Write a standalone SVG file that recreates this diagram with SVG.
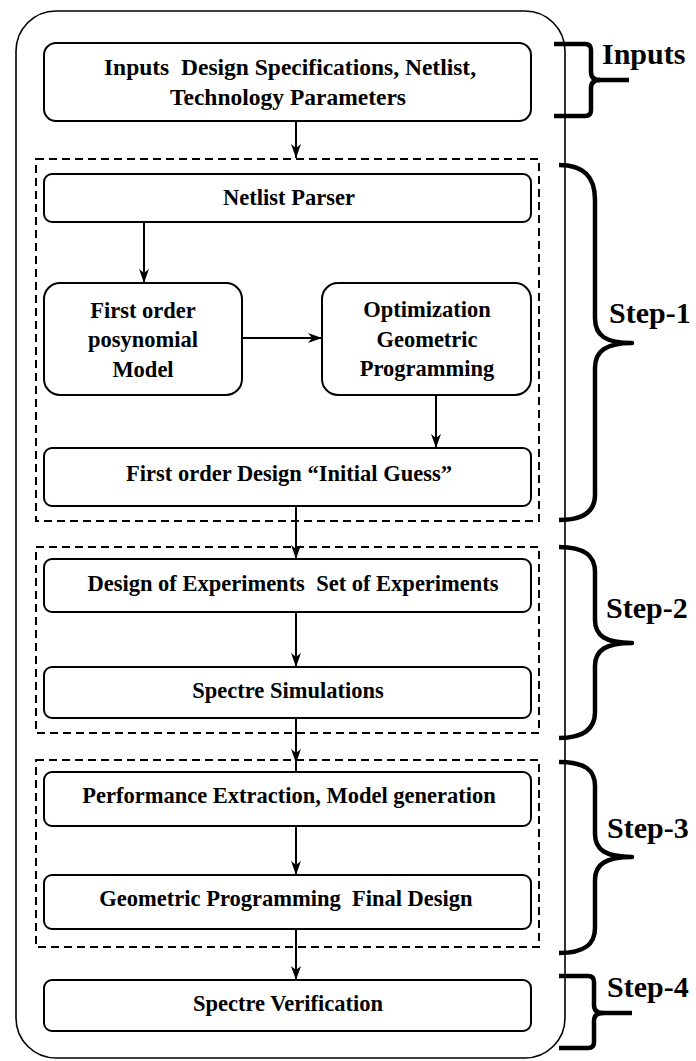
<svg xmlns="http://www.w3.org/2000/svg" width="696" height="1061" viewBox="0 0 696 1061">
<style>
.bg{fill:#fff}
.outer{fill:none;stroke:#000;stroke-width:1.6}
.box{fill:#fff;stroke:#000;stroke-width:2}
.dash{fill:none;stroke:#000;stroke-width:2;stroke-dasharray:8 5}
.t{font-family:"Liberation Serif","Times New Roman",serif;font-weight:bold;font-size:22.5px;fill:#000;text-anchor:middle;white-space:pre}
.big{font-size:23.5px}
.lbl{font-family:"Liberation Serif","Times New Roman",serif;font-weight:bold;font-size:30px;fill:#000}
.brace{fill:none;stroke:#000;stroke-width:4.5;stroke-linecap:butt;stroke-linejoin:round}
.conn{fill:none;stroke:#000;stroke-width:2}
</style>
<defs>
<marker id="arr" viewBox="0 0 14 10" refX="14" refY="5" markerWidth="14" markerHeight="10" markerUnits="userSpaceOnUse" orient="auto">
<path d="M0,0 L14,5 L0,10 L4,5 z" fill="#000"/>
</marker>
</defs>
<rect class="bg" x="0" y="0" width="696" height="1061"/>
<rect class="outer" x="16" y="11" width="549" height="1047" rx="40" ry="40"/>

<g id="group-step1"><rect class="dash" x="36" y="159" width="503" height="362"/></g>
<g id="group-step2"><rect class="dash" x="36" y="547" width="503" height="186"/></g>
<g id="group-step3"><rect class="dash" x="36" y="760" width="503" height="187"/></g>

<g id="connectors">
<path class="conn" d="M296,121 V158" marker-end="url(#arr)"/>
<path class="conn" d="M144,222 V283" marker-end="url(#arr)"/>
<path class="conn" d="M242,338 H322" stroke-width="3" marker-end="url(#arr)"/>
<path class="conn" d="M436,395 V448" marker-end="url(#arr)"/>
<path class="conn" d="M296,506 V559" marker-end="url(#arr)"/>
<path class="conn" d="M296,612 V667" marker-end="url(#arr)"/>
<path class="conn" d="M296,718 V763" marker-end="url(#arr)"/>
<path class="conn" d="M296,760 V772"/>
<path class="conn" d="M296,826 V875" marker-end="url(#arr)"/>
<path class="conn" d="M296,929 V980" marker-end="url(#arr)"/>
</g>

<g id="inputs">
<rect class="box" x="44" y="43" width="487" height="78" rx="12"/>
<text class="t big" x="290" y="75" xml:space="preserve">Inputs  Design Specifications, Netlist,</text>
<text class="t big" x="288" y="105">Technology Parameters</text>
</g>
<g id="netlist-parser">
<rect class="box" x="44" y="174" width="487" height="48" rx="8"/>
<text class="t" x="289" y="205">Netlist Parser</text>
</g>
<g id="posynomial-model">
<rect class="box" x="44" y="283" width="198" height="112" rx="16"/>
<text class="t" x="143" y="318">First order</text>
<text class="t" x="143" y="347">posynomial</text>
<text class="t" x="143" y="377">Model</text>
</g>
<g id="optimization">
<rect class="box" x="322" y="283" width="209" height="112" rx="16"/>
<text class="t" x="427" y="317">Optimization</text>
<text class="t" x="427" y="347">Geometric</text>
<text class="t" x="427" y="376">Programming</text>
</g>
<g id="initial-guess">
<rect class="box" x="44" y="448" width="487" height="58" rx="8"/>
<text class="t" x="289" y="481">First order Design “Initial Guess”</text>
</g>
<g id="doe">
<rect class="box" x="44" y="559" width="487" height="53" rx="8"/>
<text class="t" x="293" y="591" xml:space="preserve">Design of Experiments  Set of Experiments</text>
</g>
<g id="spectre-sim">
<rect class="box" x="44" y="667" width="487" height="51" rx="8"/>
<text class="t" x="288" y="698">Spectre Simulations</text>
</g>
<g id="perf-extraction">
<rect class="box" x="44" y="772" width="487" height="54" rx="8"/>
<text class="t" x="289" y="803">Performance Extraction, Model generation</text>
</g>
<g id="gp-final">
<rect class="box" x="44" y="875" width="487" height="54" rx="8"/>
<text class="t" x="286" y="906" xml:space="preserve">Geometric Programming  Final Design</text>
</g>
<g id="spectre-verification">
<rect class="box" x="44" y="980" width="487" height="51" rx="8"/>
<text class="t" x="288" y="1011">Spectre Verification</text>
</g>

<g id="brace-inputs">
<path class="brace" d="M554,44 H585 Q591,44 591,50 V72 Q591,80 600,80 Q591,80 591,88 V110 Q591,116 585,116 H554"/>
<path class="brace" d="M598,80 H629"/>
<text class="lbl" x="602" y="64">Inputs</text>
</g>
<g id="brace-step1">
<path class="brace" d="M559,165 C585,165 595,178 595,200 V318 C595,336 606,343 632,343 C606,343 595,351 595,368 V495 C595,510 585,520 559,520"/>
<text class="lbl" x="609" y="323">Step-1</text>
</g>
<g id="brace-step2">
<path class="brace" d="M559,547 C585,547 595,556 595,572 V620 C595,636 606,643 632,643 C606,643 595,650 595,666 V712 C595,728 585,738 559,738"/>
<text class="lbl" x="606" y="618">Step-2</text>
</g>
<g id="brace-step3">
<path class="brace" d="M559,762 C585,762 595,770 595,786 V834 C595,850 606,857 632,857 C606,857 595,864 595,880 V928 C595,944 585,953 559,953"/>
<text class="lbl" x="607" y="838">Step-3</text>
</g>
<g id="brace-step4">
<path class="brace" d="M559,976 H588 Q594,976 594,982 V1005 Q594,1013 603,1013 Q594,1013 594,1021 V1042 Q594,1048 588,1048 H559"/>
<path class="brace" d="M601,1013 H632"/>
<text class="lbl" x="607" y="997">Step-4</text>
</g>
</svg>
